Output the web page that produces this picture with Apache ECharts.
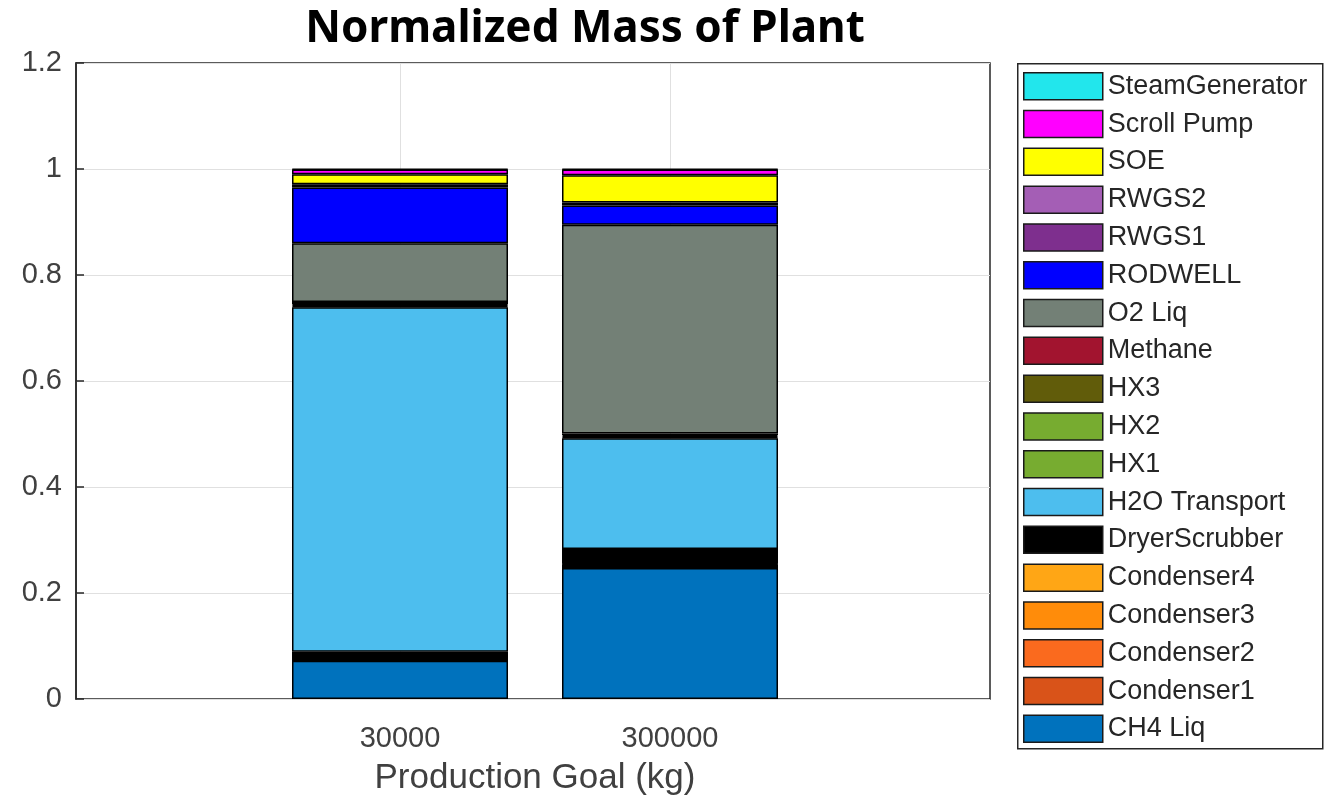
<!DOCTYPE html>
<html>
<head>
<meta charset="utf-8">
<script src="https://cdn.jsdelivr.net/npm/echarts@6/dist/echarts.min.js"></script>
<style>
html,body{margin:0;padding:0;background:#fff;}
#chart{width:1335px;height:798px;}
</style>
</head>
<body>
<div id="chart"></div>
<script>
// ---- data ----
const categories = ['30000', '300000'];
const seriesNames = ['CH4 Liq','Condenser1','Condenser2','Condenser3','Condenser4','DryerScrubber','H2O Transport','HX1','HX2','HX3','Methane','O2 Liq','RODWELL','RWGS1','RWGS2','SOE','Scroll Pump','SteamGenerator'];
const ch4Liq        = [0.072, 0.247];
const condenser1    = [0.000, 0.006];
const condenser2    = [0.000, 0.001];
const condenser3    = [0.000, 0.001];
const condenser4    = [0.000, 0.001];
const dryerScrubber = [0.017, 0.027];
const h2oTransport  = [0.650, 0.209];
const hx1           = [0.002, 0.002];
const hx2           = [0.002, 0.002];
const hx3           = [0.002, 0.002];
const methane       = [0.004, 0.003];
const o2Liq         = [0.111, 0.394];
const rodwell       = [0.105, 0.036];
const rwgs1         = [0.003, 0.003];
const rwgs2         = [0.003, 0.003];
const soe           = [0.019, 0.051];
const scrollPump    = [0.009, 0.011];
const steamGen      = [0.001, 0.001];
const yTicks = [0, 0.2, 0.4, 0.6, 0.8, 1, 1.2];

const seriesValues = [ch4Liq, condenser1, condenser2, condenser3, condenser4, dryerScrubber, h2oTransport, hx1, hx2, hx3, methane, o2Liq, rodwell, rwgs1, rwgs2, soe, scrollPump, steamGen];
const seriesColors = ['#0072BD','#D95319','#FA6A1E','#FF8C0A','#FFA615','#000000','#4DBEEE','#77AC30','#77AC30','#615C0A','#A2142F','#738076','#0000FF','#7E2F8E','#A45EB5','#FFFF00','#FF00FF','#22E6EC'];

const labelFont = '"Liberation Sans", Arial, Helvetica, sans-serif';
const axisColor = '#262626';
const gridColor = '#e0e0e0';

const series = seriesNames.map((name, i) => ({
  name: name,
  type: 'bar',
  stack: 'total',
  xAxisIndex: 1,
  yAxisIndex: 1,
  barWidth: 216,
  clip: false,
  itemStyle: { color: seriesColors[i], borderColor: '#000', borderWidth: 1.5 },
  emphasis: { disabled: true },
  data: seriesValues[i]
}));

const chart = echarts.init(document.getElementById('chart'), null, { renderer: 'canvas' });
chart.setOption({
  animation: false,
  backgroundColor: '#ffffff',
  title: {
    text: 'Normalized Mass of Plant',
    left: 580,
    textAlign: 'center',
    top: 2,
    textStyle: { fontFamily: '"Noto Sans", "Open Sans", sans-serif', fontWeight: 'bold', fontSize: 44, color: '#000' }
  },
  graphic: [{
    type: 'rect',
    left: 1017, top: 63,
    shape: { width: 305, height: 685 },
    style: { fill: '#fff', stroke: axisColor, lineWidth: 1.5 },
    z: -1
  }],
  legend: {
    orient: 'vertical',
    left: 1023,
    top: 72,
    padding: 0,
    itemWidth: 79,
    itemHeight: 27,
    itemGap: 9.3,
    icon: 'rect',
    selectedMode: false,
    data: seriesNames.slice().reverse(),
    itemStyle: { borderColor: '#1a1a1a', borderWidth: 1.5 },
    textStyle: { fontFamily: labelFont, fontSize: 27, color: '#262626', lineHeight: 27, padding: 0 }
  },
  grid: [
    { left: 76, top: 63, width: 914, height: 636, show: true, borderColor: axisColor, borderWidth: 1.5, backgroundColor: 'transparent', containLabel: false, outerBoundsMode: 'none' },
    { left: 400, top: 63, width: 270, height: 636, show: false, containLabel: false, outerBoundsMode: 'none' }
  ],
  xAxis: [
    { gridIndex: 0, type: 'value', show: false, min: 0, max: 1 },
    {
      gridIndex: 1,
      type: 'category',
      boundaryGap: false,
      data: categories,
      name: 'Production Goal (kg)',
      nameLocation: 'middle',
      nameGap: 62,
      nameTextStyle: { fontFamily: labelFont, fontSize: 35, color: '#404040' },
      axisLine: { show: false },
      axisTick: { show: true, inside: true, length: 8, lineStyle: { color: axisColor, width: 1.5 } },
      axisLabel: { interval: 0, fontFamily: labelFont, fontSize: 29, color: '#404040', margin: 25 },
      splitLine: { show: true, lineStyle: { color: gridColor, width: 1 } }
    }
  ],
  yAxis: [
    {
      gridIndex: 0,
      type: 'value',
      min: 0,
      max: 1.2,
      interval: 0.2,
      axisLine: { show: true, onZero: false, lineStyle: { color: axisColor, width: 1.5 } },
      axisTick: { show: true, inside: true, length: 8, lineStyle: { color: axisColor, width: 1.5 } },
      axisLabel: {
        formatter: v => { const t = yTicks.find(k => Math.abs(k - v) < 1e-9); return t === undefined ? '' : String(t); },
        fontFamily: labelFont, fontSize: 29, color: '#404040', margin: 14
      },
      splitLine: { show: true, lineStyle: { color: gridColor, width: 1 } }
    },
    { gridIndex: 1, type: 'value', min: 0, max: 1.2, show: false }
  ],
  series: series
});
</script>
</body>
</html>
